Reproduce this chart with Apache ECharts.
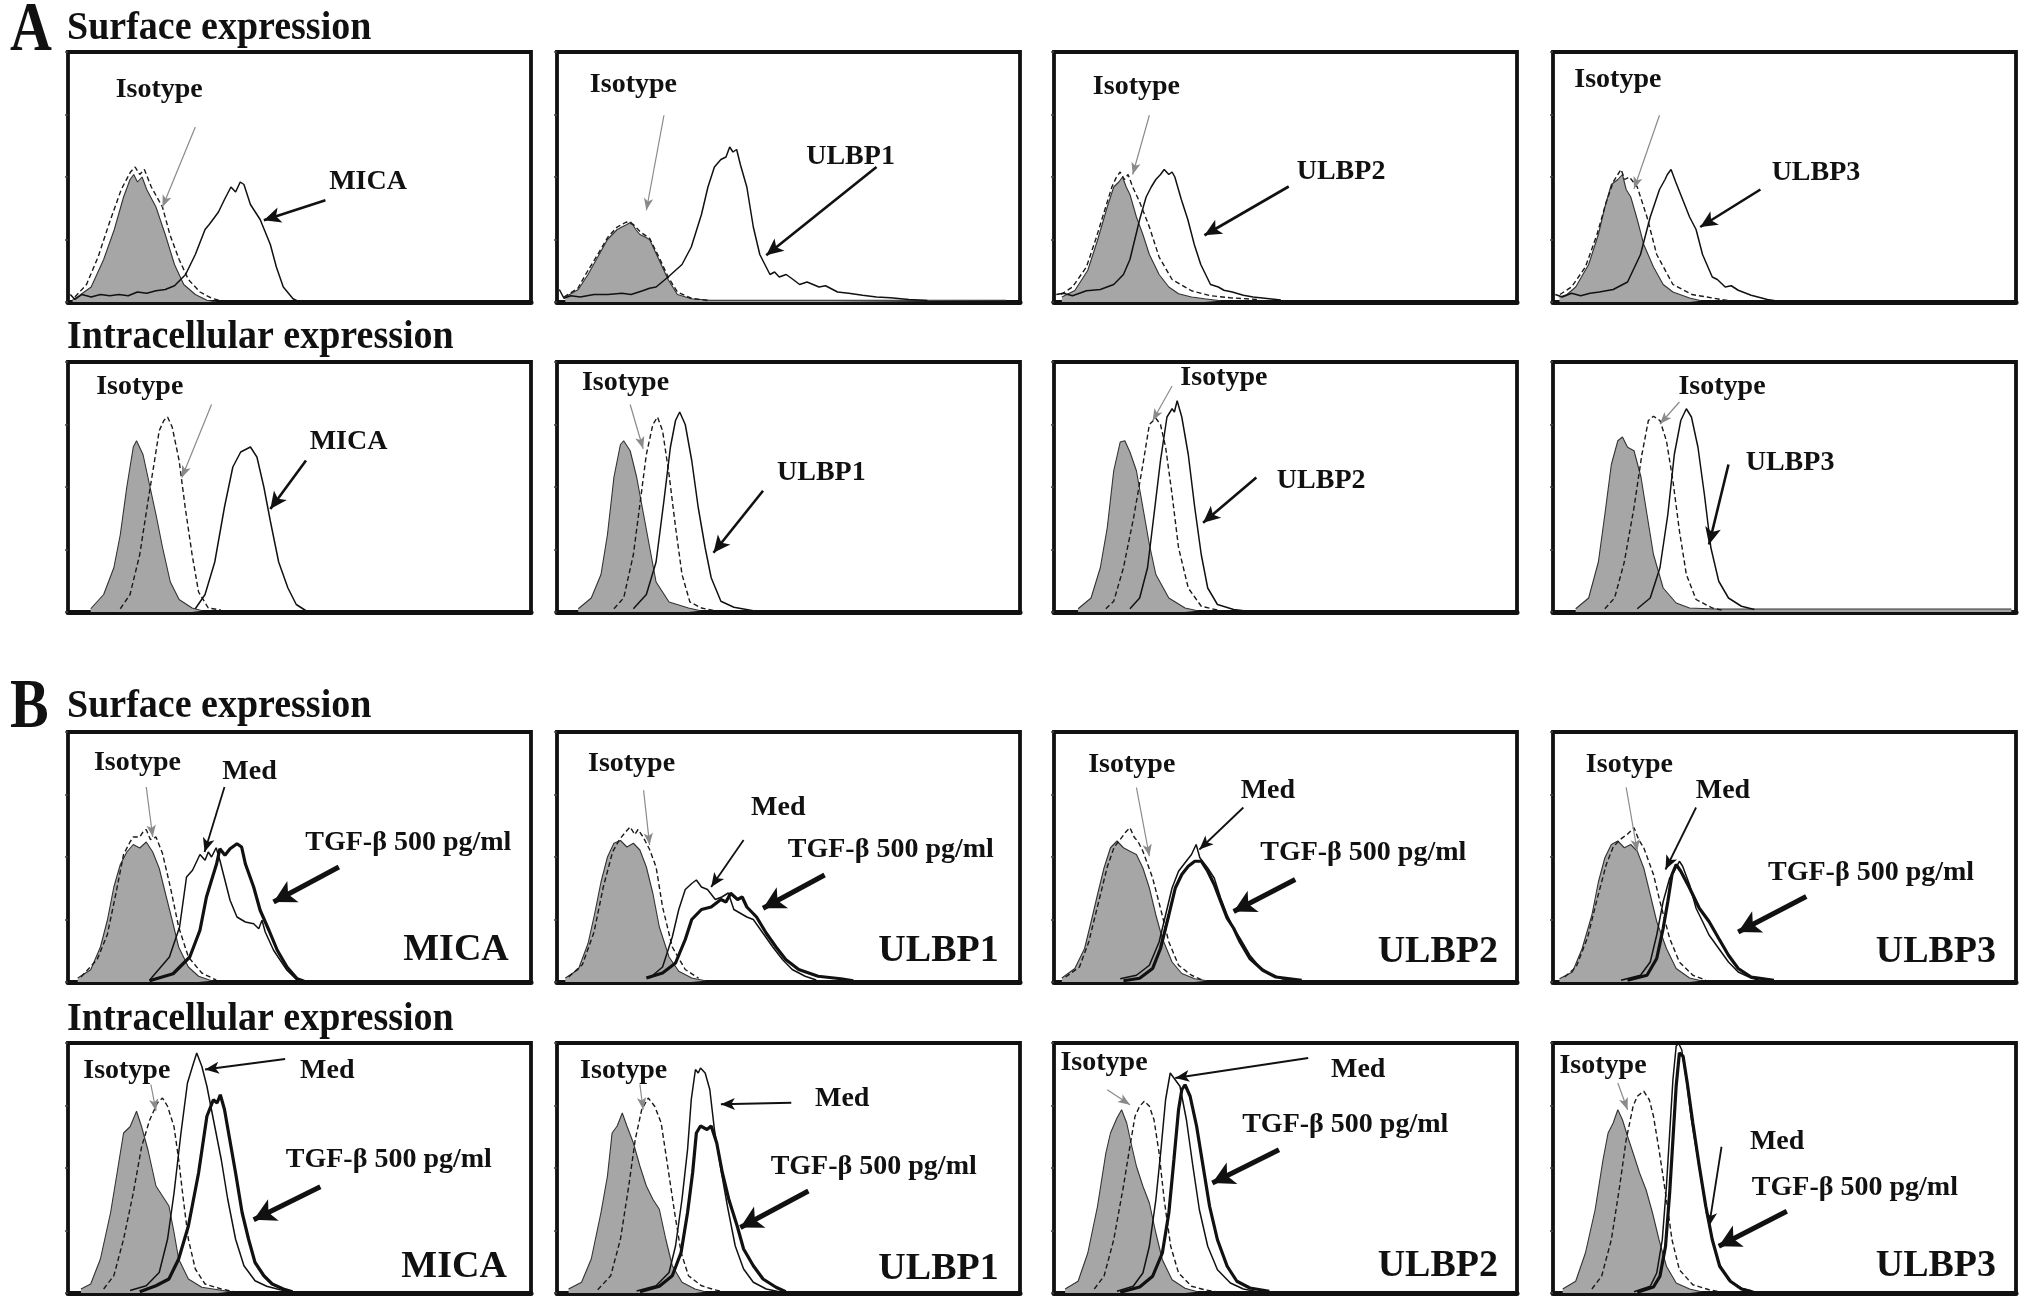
<!DOCTYPE html>
<html>
<head>
<meta charset="utf-8">
<title>NKG2D ligand expression</title>
<script src="https://cdn.jsdelivr.net/npm/echarts@6/dist/echarts.min.js"></script>
<style>
  html, body { margin: 0; padding: 0; background: #fff; }
  #chart { width: 2028px; height: 1309px; }
</style>
</head>
<body>
<div id="chart"></div>
<script>
// x = fluorescence (0-100 across the box), y = % of box height
// neg = grey filled control, iso = dashed isotype, others = antibody curves

// ── A, surface ──
const aSurfMicaNeg = [[1,1],[2,2],[5,6],[7.7,17],[10,29],[12,42],[13.4,49],[14.2,51],[15,48],[16,50],[17,45],[19,38],[21,27],[23,15],[25,7],[27.5,3],[30,0.7],[32,0]];
const aSurfMicaIso = [[1.5,2],[4,7],[6.5,18],[9,32],[11.5,45],[13.5,52],[14.5,54],[15.5,51],[16.5,53],[18,46],[20.4,38],[22,27],[24,17],[26,9],[28.5,4],[31,1.5],[33,0.5]];
const aSurfMica = [[0.5,3],[1.5,1],[3,3],[5,2],[7,3],[9,2.5],[11,3],[13,2.5],[15,4],[17,3.5],[19,4.5],[21,5],[23,6.5],[25.4,11],[27.5,19],[29.6,29],[30.5,31],[31.7,34],[32.5,36],[33.8,41],[35.2,46],[36.2,44],[37.2,48],[38,47],[39.4,39],[41.5,33],[43.7,23],[45,14],[46.5,6],[48.6,1.3],[50,0]];

const aSurfUlbp1Neg = [[1.8,2],[4.6,5],[6.7,11],[8.8,18],[10.9,25],[13,29],[14,30],[15.1,31],[16,32],[17,29],[17.9,27],[19,26],[20,25],[22,17],[24,9],[26,3],[29,1.3],[33,0.7],[60,0.7],[97,0.7]];
const aSurfUlbp1Iso = [[1.5,2],[4.5,5.5],[6.5,12],[8.8,19],[11,26],[13,30],[15,32],[16.5,31],[18,28],[20,25.5],[22,18],[24,10],[26,4],[29,1.5],[33,0.5]];
const aSurfUlbp1 = [[0.5,5],[1.5,1.5],[3,2.5],[5,2],[8,3],[11,3],[14,3.5],[16,3],[18.5,4.5],[20,5.5],[21.4,6],[24,10],[27,15],[29,22],[31.2,35],[32.6,46],[34,54],[35.4,57],[36.5,58],[37.3,62],[38,60],[38.8,61],[39.6,55],[41,46],[42.4,30],[43.8,19],[46,11],[47,12],[48,10],[49.5,11],[51,9],[52.4,7],[54,8],[56.6,6],[58,6.5],[60.6,4],[63,3.5],[66,2.7],[69,2],[72,1.7],[76,1],[80,0.6]];

const aSurfUlbp2Neg = [[1.7,2],[4.5,4.6],[7.3,12.7],[9.4,24.7],[11.5,38],[12.9,46],[14,48],[14.8,50],[15.6,46],[16.4,43],[17.8,34],[19.2,27],[20.6,19],[22.7,11],[24.8,6],[26.9,3.3],[29.7,2],[32.5,1.3],[36,0.5]];
const aSurfUlbp2Iso = [[1.5,3],[4,6],[7,14],[9,25],[11,37],[12.5,46],[13.5,50],[14.3,52],[15.2,49],[16,51],[17,46],[18.5,40],[20.6,30],[22.7,18],[25.5,9],[29.7,4.5],[33.8,2.5],[38,1.7],[44,1]];
const aSurfUlbp2 = [[0.5,3],[2,3.5],[4,2.5],[7,4.5],[10,5],[12.9,7],[15,11],[16.4,17],[18.5,33],[19.9,42],[21,46],[22,49],[23,51],[23.8,53],[24.8,51],[25.5,52],[26.1,50],[27.5,41],[28.9,33],[30.3,23],[31.7,15],[33.8,7],[35.5,6],[36.7,4.7],[38.5,4],[40.9,2.7],[43,2],[46.5,1.3],[49,0.8]];

const aSurfUlbp3Neg = [[1.4,2],[3,3],[4.9,6],[7.7,15],[9.8,27],[11.2,38],[12.6,47],[14,49],[15,51],[15.8,45],[16.8,42],[18.2,33],[19.6,23],[21.7,14],[23.8,7],[25.9,4],[29.5,1.6],[32,0.5]];
const aSurfUlbp3Iso = [[1.5,3],[4,6],[7,14],[9.5,27],[11.5,40],[13,48],[14,51],[14.7,53],[15.5,49],[16.5,50],[18.2,46],[20.3,34],[22.4,19],[25.9,7],[30,3],[34.4,1.6],[38,0.5]];
const aSurfUlbp3 = [[0.5,3],[2,2],[4,3.5],[6,2.5],[8,3.5],[10,4],[13,5],[16.1,8],[18.9,19],[21,34],[23,45],[24.2,49],[24.7,51],[25.5,53],[26.5,48],[28,41],[29.5,34],[30.9,29],[32.3,19],[34.4,10],[35.5,9],[37.2,6],[38.5,6.5],[40,4.7],[42.8,2.7],[46.3,1],[48,0.5]];

// ── A, intracellular ──
const aIntraMicaNeg = [[4.9,1.3],[7.7,7],[9.9,17.7],[11.3,31],[12.7,50],[14.1,66],[14.8,68.5],[16.2,63],[17.6,51],[19,39],[20.4,26],[22.1,12],[24,5],[26.8,1.6],[29,0.5]];
const aIntraMicaIso = [[11.3,1.3],[13.4,7],[15.5,23],[17.3,44.6],[18.7,60.6],[19.7,72.5],[20.7,76.6],[21.5,78],[22.5,74],[24,60.6],[25.3,42],[26.8,23],[28.2,8],[30.3,1.6],[33,0.8]];
const aIntraMica = [[27.5,1.3],[29.6,7],[31.7,20],[33.8,42],[35.6,58],[37.3,64],[39.4,66],[40.8,62],[42.3,50],[43.7,36.4],[45.5,20],[47.5,9.6],[49.3,3],[51.4,0.5]];

const aIntraUlbp1Neg = [[4.6,1.3],[7.4,5.6],[9.5,15],[10.9,31],[12.3,54],[13.7,67],[14.4,68.5],[15.8,64.5],[17.2,54],[18.6,40],[20,26],[21.4,12],[24.2,4],[28.4,1.6],[31,0.5]];
const aIntraUlbp1Iso = [[12.3,1.3],[14.4,5.6],[16.5,23],[17.9,43],[19.3,63],[20.7,75],[21.7,78],[22.8,72.5],[24.2,55],[25.6,34],[27,15],[28.7,4],[31.2,1.6],[34,0.5]];
const aIntraUlbp1 = [[16.5,1.3],[19.3,7],[21.4,20],[23.1,44.6],[24.5,66],[25.6,76.6],[26.5,80],[27.7,75],[29.1,60.6],[30.5,41.8],[32,25.7],[33.3,13.7],[35.4,4.3],[38.2,1.9],[42.4,0.5]];

const aIntraUlbp2Neg = [[5.2,1.3],[8,5.6],[10,17.7],[11.5,33.7],[12.9,56.5],[14.3,68],[15.3,68.5],[16.4,64],[17.8,56.5],[19.2,41.8],[20.6,27],[22,15],[24.8,5.6],[28.3,1.6],[31,0.5]];
const aIntraUlbp2Iso = [[11.2,1.3],[12.9,4.3],[15,17.7],[17.2,37.8],[19.2,59],[20.6,75],[22,77.5],[23,75],[24.1,66],[25.5,47],[26.9,25.7],[29,9.6],[31.8,2.3],[35.3,0.8]];
const aIntraUlbp2 = [[16.4,1.3],[18.5,5.6],[20.2,17.7],[21.6,39],[23,60.6],[24.4,78],[25.5,81.3],[26,80],[26.6,84.5],[27.6,78],[29,63],[30.4,41.8],[31.8,23],[33.2,9.6],[35.3,3],[38.8,1],[41,0.5]];

const aIntraUlbp3Neg = [[4.9,1.3],[7.7,5.6],[9.8,20],[11.2,39],[12.6,59],[14,68.5],[15,70],[16.1,65.9],[17.5,64.5],[19,54],[20.3,39],[21.7,23],[23.8,9.6],[26.6,3.6],[29.5,1.6],[35,1.2],[99,1.2]];
const aIntraUlbp3Iso = [[11.2,1.3],[13.3,5.6],[15.4,20],[17.5,41.8],[19.2,63],[20.6,76.6],[21.7,78.3],[23.1,76.6],[24.5,68.5],[25.9,52.5],[27.3,32.5],[28.8,15],[30.9,5],[34.4,1.6],[37,0.5]];
const aIntraUlbp3 = [[18.2,1.3],[21,5.6],[23.1,17.7],[24.8,39],[26.2,63],[27.6,76.6],[28.8,81.3],[29.9,78],[31.3,66],[32.7,47],[34.1,25.7],[35.8,12.3],[37.9,5.6],[40.7,2.3],[43.5,1]];

// ── B, surface ──
const bSurfMicaNeg = [[2.1,1.6],[4.9,4.9],[7,14],[8.5,24.7],[9.9,38],[11.3,47],[12.7,52],[14.1,55],[15.5,53.6],[16.9,56],[18.3,52],[19.7,45.5],[21.1,35],[22.5,24.7],[23.9,14],[26,6],[28.2,2.3],[31,0.5]];
const bSurfMicaIso = [[2.8,2],[6.3,9],[8.5,19],[10.3,35],[12,51],[13.4,56],[14.1,58],[15.5,58],[16.2,60],[16.9,61],[17.8,57],[19,58],[20.4,51.5],[22.1,38],[23.9,22],[26,10],[28.9,3.6],[32,0.8]];
const bSurfMicaMed = [[17.6,0.7],[21.9,10],[24.1,22],[25.6,42],[26.9,44.7],[28.5,51],[29.6,48.7],[30.3,52],[31,50],[32,53.7],[32.8,48.7],[33.9,40.7],[35,32.7],[36.5,26],[38.3,24],[40.1,23.3],[41.2,21.3],[41.9,24.7],[42.6,20],[44.4,12.7],[47.3,4.7],[49.5,0.7]];
const bSurfMicaTgf = [[17.6,0.5],[22.7,3.3],[26.3,10],[28.5,20.7],[29.9,34],[31,40.7],[32.1,47.3],[32.8,53.3],[33.9,50.7],[35,53.3],[36.5,55.3],[37.5,54],[38.3,47.3],[40.1,38],[41.5,28.7],[43.4,20.7],[45.2,12.7],[47.3,6],[49.5,1.3],[51,0.3]];

const bSurfUlbp1Neg = [[1.8,1.6],[4.6,5],[6.7,15.4],[8.1,27],[9.5,40],[10.9,50],[12.3,55.5],[13.7,56.6],[15.1,54],[16.5,55.5],[17.9,52.8],[19.3,46],[20.7,35.5],[22.1,22],[24.2,10],[26.3,4.3],[29.1,1.6],[32,0.5]];
const bSurfUlbp1Iso = [[2.5,2],[5.5,7],[8,20],[10,38],[12,52],[13.5,57],[14.8,60],[15.8,62],[16.8,59],[17.5,61],[18.6,58],[20,53],[21.4,46],[22.8,30],[24.9,14],[27.7,5],[30.6,1.5]];
const bSurfUlbp1Med = [[20,1.6],[22.8,6],[24.9,18],[26.3,29],[27.7,37],[29.1,39.4],[30.1,40.8],[31.2,38],[32.5,37],[34.2,33],[35.6,34],[37,35.6],[38.2,29],[39.6,27.5],[41,26],[42.4,25],[44.5,19.5],[46.6,14],[48.7,9],[50.8,5],[53.6,2.3],[56,0.8]];
const bSurfUlbp1Tgf = [[19.3,1.6],[22.8,3.6],[25.6,7.6],[27.7,17],[29.1,25],[31.2,29],[33.3,30],[35.4,33],[36.5,32],[37.5,35.5],[39,33],[40,34],[41,30],[43.1,26],[45.2,19.5],[47.3,14],[49.4,9],[52.2,5],[56.4,2.3],[61.3,1.3],[64,0.5]];

const bSurfUlbp2Neg = [[1.7,1.6],[4.5,5.4],[6.6,13.4],[8,24],[9.4,35],[10.8,45.6],[12.2,53.7],[13.6,56.4],[15,53.7],[16.4,52.3],[17.8,51],[19.2,45.6],[20.6,37.6],[22,26.8],[23.4,17.4],[25.5,8],[27.6,3.4],[30.4,1.3],[33,0.5]];
const bSurfUlbp2Iso = [[2.5,2],[5.5,6],[7.5,16],[9.5,31],[11.5,46],[13,54],[14.3,57],[15.5,60],[16.4,61.7],[17.3,58],[18.2,56],[19.2,52.3],[21.3,41.6],[23,29.5],[24.8,16],[26.9,6.7],[29.7,2.7],[32,0.8]];
const bSurfUlbp2Med = [[14.3,1.3],[17.8,2.7],[20.6,6.7],[22.7,16],[24.1,26.8],[25.5,37.6],[26.9,44.3],[28.3,47.7],[29.7,51],[30.7,55],[31.5,49.7],[33.2,45.6],[34.6,41.6],[36,33.6],[37.4,26.8],[38.8,21.5],[40.2,17.4],[42.3,10.7],[44.4,6],[46.5,3.4],[49.3,1.3],[52,0.5]];
const bSurfUlbp2Tgf = [[15,0.5],[18.5,1.5],[21.3,5.4],[23,13.4],[24.8,26.8],[26.2,37.6],[27.6,43],[29,46.3],[30.4,48.3],[31.8,48.3],[33.2,44.3],[34.6,39],[36,32.2],[37.4,25.5],[38.8,21.5],[40.2,16],[42.3,9.4],[45.1,4.7],[47.9,2],[53.5,0.7]];

const bSurfUlbp3Neg = [[1.4,1.3],[4.2,4],[6.3,13.4],[8.4,26.8],[9.8,40],[11.2,49.7],[12.6,55],[14,56.4],[15.4,53.7],[16.8,55],[18.2,52.3],[19.6,45.6],[21,35],[22.4,24.2],[24.5,13.4],[26.6,5.4],[29.5,1.6],[32,0.5]];
const bSurfUlbp3Iso = [[2.5,2],[5,6],[7.5,18],[9.5,33],[11.5,47],[13,54],[14.5,57],[16,59],[17.5,61.7],[18.5,57],[19.6,53.7],[21.7,43],[23.1,32.2],[25.2,17.4],[27.3,8],[30.2,2.7],[33,0.8]];
const bSurfUlbp3Med = [[14.7,0.7],[18.9,2.7],[21,8],[22.4,18.8],[23.8,32.2],[25.2,41.6],[26.2,44.3],[27.3,48.3],[28,46.3],[29.5,38.9],[30.9,29.5],[32.3,24.2],[33.7,18.8],[35.8,13.4],[37.9,8],[40,4],[42.8,1.6],[45,0.5]];
const bSurfUlbp3Tgf = [[16.1,0.7],[20.3,2.7],[22.4,9.4],[23.8,21.5],[24.8,32.2],[25.7,43],[26.6,47],[27.6,44.3],[29.5,37.6],[31.6,29.5],[33.7,24.2],[35.8,17.4],[37.9,10.7],[40,5.4],[42.8,2],[47.7,0.7]];

// ── B, intracellular ──
const bIntraMicaNeg = [[2.8,1.6],[4.9,3.6],[7,13.6],[9.2,32.2],[10.6,48],[12,64],[13.4,66.5],[14.8,72.7],[15.9,66.5],[17.3,57],[19,42.8],[20.4,38.8],[21.8,34.8],[22.9,24.2],[23.9,13.6],[26,5.6],[28.9,2.3],[32.4,1.3],[35,0.5]];
const bIntraMicaIso = [[7.7,1.6],[9.9,6.9],[12,21.5],[14.1,40],[15.9,58.5],[17.6,69],[19.3,76],[20.4,78],[21.5,74.7],[22.9,66.5],[23.9,53.4],[24.9,37.5],[26,21.5],[27.5,9.6],[29.6,3.6],[33.1,1.6],[36,0.5]];
const bIntraMicaMed = [[13.4,1],[16.9,2.9],[19.7,8.2],[21.5,21.5],[22.9,40],[24.4,64],[25.8,84],[26.9,90.7],[27.8,96],[28.9,90.7],[30,82.7],[31.4,69.4],[33.1,53.4],[34.5,37.5],[36.2,21.5],[38,10.9],[40.4,4.9],[42.9,2.7],[45.8,1.3],[48,0.5]];
const bIntraMicaTgf = [[15.5,0.5],[19,2.9],[21.8,5.6],[23.9,13.6],[26,26.8],[28.2,48],[30,70.7],[31.4,77.3],[32.2,76],[32.9,79.3],[33.8,73.4],[34.8,62.8],[36.2,48],[37.6,32.2],[39,21.5],[40.4,12.2],[42.3,6.9],[44.1,3.6],[46.5,1.6],[48.5,0.5]];

const bIntraUlbp1Neg = [[2.5,1.6],[5.3,4.3],[7.4,13.6],[9.5,32.2],[10.9,46.8],[11.9,64],[13,66.8],[14.1,72],[15.1,66.8],[16.5,60],[17.9,50.8],[19.3,42.8],[20.7,37.5],[22.1,33.5],[23.5,21.5],[24.9,10.9],[27,4.3],[29.8,1.6],[32,0.5]];
const bIntraUlbp1Iso = [[8.8,1.3],[11.6,6.9],[13.7,21.5],[15.5,42.8],[16.9,61.4],[18.3,73.4],[19.7,78],[21.1,74.7],[22.5,68],[23.9,50.8],[25.4,32.2],[26.8,16.2],[28.4,6.9],[31.2,2.9],[34,1.3],[36,0.5]];
const bIntraUlbp1Med = [[17.2,0.8],[21.4,2.9],[24.2,8.2],[25.6,18.8],[27,37.5],[28.2,57.4],[29,77.4],[29.9,89.4],[30.5,88],[31,90],[32,88],[33,81.4],[34,65.4],[35.4,49.5],[36.8,34.8],[38.5,18.8],[40.3,9.6],[42.4,4.3],[45.2,1.6],[48,0.5]];
const bIntraUlbp1Tgf = [[17.9,0.5],[22.1,2.7],[24.9,6.9],[26.8,16.2],[28.2,32.2],[29.3,48.2],[30.1,64],[31,66.8],[32.4,65.4],[33.3,66.8],[34.5,60],[35.7,48.2],[37.1,37.5],[38.9,26.9],[40.3,17.6],[42.4,10.9],[44.5,5.6],[47.3,2.3],[49.4,0.5]];

const bIntraUlbp2Neg = [[2.4,1.6],[5.2,4.7],[7.3,16],[9.4,34.7],[11.2,56],[12.2,64],[13.6,70],[14.6,73.3],[15.7,68],[16.8,58.7],[17.8,50.7],[19.2,42.7],[20.6,36],[22,24],[23.4,13.3],[25.5,5.3],[28.3,1.9],[31,0.5]];
const bIntraUlbp2Iso = [[8.7,1.6],[10.8,6.7],[12.9,21.3],[15,42.7],[16.4,58.7],[17.5,70.7],[18.5,74.7],[19.5,76.7],[20.6,74.7],[21.6,69.3],[22.7,56],[23.8,37.3],[25.2,18.7],[26.9,8],[29.7,2.7],[32.5,1.3],[35,0.5]];
const bIntraUlbp2Med = [[13.6,0.7],[17.1,2.7],[19.2,8],[20.6,18.7],[22,37.3],[23.1,57.3],[24.1,77.3],[25.1,88],[25.9,86],[27.2,82.7],[28.6,69.3],[30,50.7],[31.4,33.3],[33.2,18.7],[35.3,9.3],[38.1,4],[40.9,1.6],[44,0.5]];
const bIntraUlbp2Tgf = [[14.3,0.3],[18.5,2.4],[21.3,6.7],[23.4,16],[24.8,32],[25.9,53.3],[26.9,73.3],[27.6,81.3],[28.3,83.3],[29.4,78.7],[30.8,66.7],[32.2,50.7],[33.6,34.7],[35.3,21.3],[37.4,10.7],[39.5,4.7],[42.3,2],[46.5,0.7]];

const bIntraUlbp3Neg = [[2.1,1.6],[4.9,4.7],[7,16],[9.1,33.3],[10.8,53.3],[11.9,64],[13,68],[14,73.3],[15,69.3],[16.1,62.7],[17.3,56],[18.7,48],[20.1,41.3],[21.5,32],[22.9,21.3],[24.5,10.7],[26.6,4],[29.5,1.6],[32,0.5]];
const bIntraUlbp3Iso = [[8.4,1.6],[10.5,6.7],[12.6,21.3],[14.4,42.7],[15.8,61.3],[17.3,74.7],[18.2,78.7],[19.6,80.7],[20.8,77.3],[21.7,70.7],[22.9,57.3],[24.3,40],[25.7,21.3],[27.3,9.3],[30.2,3.3],[33.7,1.3],[36,0.5]];
const bIntraUlbp3Med = [[17.5,0.5],[21,2.7],[22.4,8],[23.6,21.3],[24.5,42.7],[25.2,64],[25.9,85.3],[26.6,98.7],[27.1,100],[27.8,97.3],[28.8,85.3],[29.9,69.3],[31.3,53.3],[32.7,37.3],[34.1,24],[35.8,12],[37.9,5.3],[40.7,1.9],[43.5,0.5]];
const bIntraUlbp3Tgf = [[18.2,0.3],[21.7,2.4],[23.1,6.7],[24.3,18.7],[25.2,40],[25.9,61.3],[26.6,82.7],[27.3,96],[28.1,94.7],[29,84],[30.2,68],[31.6,50.7],[33,34.7],[34.4,21.3],[36,10.7],[38.3,4.7],[40.7,1.6],[43,0.5]];

const TGF = 'TGF-β 500 pg/ml';

// panel layout (px) and annotations (in data units)
const colLeft = [68, 557, 1054, 1553];
const rowTop = [52, 362, 732, 1043];
const boxW = 463, boxH = 250;

const panels = [
  { row: 0, col: 0, neg: aSurfMicaNeg, iso: aSurfMicaIso, pos: aSurfMica,
    notes: [['Isotype', 19.7, 85], ['MICA', 64.8, 48]],
    isoArrow: [[27.5, 70], [20.4, 38]], posArrow: [[55.6, 40.7], [42.3, 32.7]] },
  { row: 0, col: 1, neg: aSurfUlbp1Neg, iso: aSurfUlbp1Iso, pos: aSurfUlbp1,
    notes: [['Isotype', 16.5, 87], ['ULBP1', 63.4, 58]],
    isoArrow: [[23.1, 74.7], [19.3, 36.7]], posArrow: [[69, 54], [45.2, 18.7]] },
  { row: 0, col: 2, neg: aSurfUlbp2Neg, iso: aSurfUlbp2Iso, pos: aSurfUlbp2,
    notes: [['Isotype', 17.8, 86], ['ULBP2', 62, 52]],
    isoArrow: [[20.6, 74.7], [17, 51]], posArrow: [[50.7, 46.2], [32.5, 26.7]] },
  { row: 0, col: 3, neg: aSurfUlbp3Neg, iso: aSurfUlbp3Iso, pos: aSurfUlbp3,
    notes: [['Isotype', 14, 89], ['ULBP3', 56.8, 51.6]],
    isoArrow: [[23, 74.7], [17.5, 45.3]], posArrow: [[44.8, 45], [31.8, 30]] },

  { row: 1, col: 0, neg: aIntraMicaNeg, iso: aIntraMicaIso, pos: aIntraMica,
    notes: [['Isotype', 15.5, 90], ['MICA', 60.6, 68]],
    isoArrow: [[31, 83], [24.6, 53.8]], posArrow: [[51.4, 60.6], [43.7, 41.2]] },
  { row: 1, col: 1, neg: aIntraUlbp1Neg, iso: aIntraUlbp1Iso, pos: aIntraUlbp1,
    notes: [['Isotype', 14.8, 91.6], ['ULBP1', 57.1, 55.8]],
    isoArrow: [[15.8, 83], [18.6, 65.3]], posArrow: [[44.5, 48.5], [33.8, 23.7]] },
  { row: 1, col: 2, neg: aIntraUlbp2Neg, iso: aIntraUlbp2Iso, pos: aIntraUlbp2,
    notes: [['Isotype', 36.7, 93.6], ['ULBP2', 57.7, 52.5]],
    isoArrow: [[25.5, 90.4], [21.3, 76.5]], posArrow: [[43.7, 53.8], [32.2, 35.7]] },
  { row: 1, col: 3, neg: aIntraUlbp3Neg, iso: aIntraUlbp3Iso, pos: aIntraUlbp3,
    notes: [['Isotype', 36.5, 90], ['ULBP3', 51.2, 59.8]],
    isoArrow: [[27.3, 84], [23.1, 75.2]], posArrow: [[37.9, 59], [33.7, 27]] },

  { row: 2, col: 0, neg: bSurfMicaNeg, iso: bSurfMicaIso, pos: bSurfMicaMed, tgf: bSurfMicaTgf,
    notes: [['Isotype', 15, 87.8], ['Med', 39.2, 84], [TGF, 73.5, 55.5], ['MICA', 83.8, 12.9, 38]],
    isoArrow: [[16.9, 78], [18.3, 58]], posArrow: [[33.8, 78], [29.5, 52]], tgfArrow: [[58.5, 46], [44.4, 32]] },
  { row: 2, col: 1, neg: bSurfUlbp1Neg, iso: bSurfUlbp1Iso, pos: bSurfUlbp1Med, tgf: bSurfUlbp1Tgf,
    notes: [['Isotype', 16.1, 87.4], ['Med', 47.8, 69.8], [TGF, 72.1, 52.8], ['ULBP1', 82.4, 12.2, 38]],
    isoArrow: [[18.7, 76.7], [20, 54.8]], posArrow: [[40.3, 56.8], [33.3, 38]], tgfArrow: [[57.8, 42.8], [44.5, 29.5]] },
  { row: 2, col: 2, neg: bSurfUlbp2Neg, iso: bSurfUlbp2Iso, pos: bSurfUlbp2Med, tgf: bSurfUlbp2Tgf,
    notes: [['Isotype', 16.8, 87], ['Med', 46.2, 76.5], [TGF, 66.8, 51.7], ['ULBP2', 82.9, 12, 38]],
    isoArrow: [[17.8, 77.8], [20.6, 50.3]], posArrow: [[40.9, 69.8], [31.4, 53]], tgfArrow: [[52.1, 41], [38.8, 28.2]] },
  { row: 2, col: 3, neg: bSurfUlbp3Neg, iso: bSurfUlbp3Iso, pos: bSurfUlbp3Med, tgf: bSurfUlbp3Tgf,
    notes: [['Isotype', 16.5, 87], ['Med', 36.7, 76.5], [TGF, 68.7, 43.5], ['ULBP3', 82.7, 12, 38]],
    isoArrow: [[15.8, 77.9], [18.2, 52.3]], posArrow: [[30.9, 69.8], [24.3, 45]], tgfArrow: [[54.7, 34.2], [40, 20]] },

  { row: 3, col: 0, neg: bIntraMicaNeg, iso: bIntraMicaIso, pos: bIntraMicaMed, tgf: bIntraMicaTgf,
    notes: [['Isotype', 12.7, 88.7], ['Med', 56, 89], [TGF, 69.3, 53.2], ['MICA', 83.4, 10.2, 38]],
    isoArrow: [[17.9, 83.4], [19, 72.8]], posArrow: [[46.9, 93.6], [29.6, 89.4]], tgfArrow: [[54.5, 42.5], [40.1, 29.3]] },
  { row: 3, col: 1, neg: bIntraUlbp1Neg, iso: bIntraUlbp1Iso, pos: bIntraUlbp1Med, tgf: bIntraUlbp1Tgf,
    notes: [['Isotype', 14.4, 88.7], ['Med', 61.6, 77.8], [TGF, 68.4, 50.5], ['ULBP1', 82.4, 9.6, 38]],
    isoArrow: [[17.9, 83.4], [18.6, 73.4]], posArrow: [[50.6, 76.1], [35.4, 75.5]], tgfArrow: [[54.3, 40.8], [39.6, 26.2]] },
  { row: 3, col: 2, neg: bIntraUlbp2Neg, iso: bIntraUlbp2Iso, pos: bIntraUlbp2Med, tgf: bIntraUlbp2Tgf,
    notes: [['Isotype', 10.8, 92], ['Med', 65.7, 89.3], [TGF, 62.9, 67.3], ['ULBP2', 82.9, 10.7, 38]],
    isoArrow: [[11.5, 81.3], [16.4, 75.3]], posArrow: [[54.9, 94], [26.2, 86]], tgfArrow: [[48.6, 57.3], [34.2, 44]] },
  { row: 3, col: 3, neg: bIntraUlbp3Neg, iso: bIntraUlbp3Iso, pos: bIntraUlbp3Med, tgf: bIntraUlbp3Tgf,
    notes: [['Isotype', 10.8, 90.7], ['Med', 48.4, 60.3], [TGF, 65.2, 42], ['ULBP3', 82.7, 10.7, 38]],
    isoArrow: [[14, 84], [16.1, 73.3]], posArrow: [[36.4, 58.5], [33.7, 26.7]], tgfArrow: [[50.5, 32.7], [35.8, 18.7]] },
];

// heading text, x, y (middle), font size, vertical stretch
const headings = [
  ['A', 10, 32, 58, 1.2], ['Surface expression', 67, 28, 38, 1.08], ['Intracellular expression', 67, 337, 38, 1.08],
  ['B', 10, 709, 58, 1.2], ['Surface expression', 67, 706, 38, 1.08], ['Intracellular expression', 67, 1019, 38, 1.08],
];

const SERIF = '"Liberation Serif", "Times New Roman", serif';

function arrow(pair, color, width, size) {
  return {
    silent: true,
    symbol: ['none', 'arrow'],
    symbolSize: size,
    label: { show: false },
    emphasis: { disabled: true },
    lineStyle: { type: 'solid', color: color, width: width, opacity: 1 },
    animation: false,
    data: [[{ coord: pair[0] }, { coord: pair[1] }]],
  };
}

const chart = echarts.init(document.getElementById('chart'), null, { renderer: 'canvas' });

const grid = [], xAxis = [], yAxis = [], series = [];

panels.forEach((p, i) => {
  grid.push({
    left: colLeft[p.col], top: rowTop[p.row], width: boxW, height: boxH,
    show: true, backgroundColor: '#fff', borderColor: '#111', borderWidth: 3.8,
  });
  xAxis.push({
    gridIndex: i, type: 'value', min: 0, max: 100,
    axisLine: { show: true, onZero: false, lineStyle: { color: '#111', width: 5 } },
    axisTick: { show: false }, axisLabel: { show: false }, splitLine: { show: false },
  });
  yAxis.push({
    gridIndex: i, type: 'value', min: 0, max: 100, interval: 25,
    axisLine: { show: false },
    axisTick: { show: true, length: 3, lineStyle: { color: '#444', width: 1.5 } },
    axisLabel: { show: false }, splitLine: { show: false },
  });

  const base = { type: 'line', xAxisIndex: i, yAxisIndex: i, showSymbol: false, symbol: 'none', silent: true, animation: false };

  // grey filled control
  series.push({ ...base, data: p.neg, z: 2,
    lineStyle: { color: '#333', width: 1.1 },
    areaStyle: { color: '#a6a6a6', opacity: 1 } });

  // dashed isotype
  series.push({ ...base, data: p.iso, z: 3,
    lineStyle: { color: '#1a1a1a', width: 1.4, type: [5, 3] },
    markLine: arrow(p.isoArrow, '#8a8a8a', 1.2, [7, 12]) });

  // solid antibody / medium curve + labels
  series.push({ ...base, data: p.pos, z: 4,
    lineStyle: { color: '#111', width: 1.5 },
    markLine: arrow(p.posArrow, '#111', p.tgf ? 1.8 : 2.6, p.tgf ? [9, 14] : [12, 17]),
    markPoint: {
      silent: true, symbol: 'rect', symbolSize: 1, animation: false,
      itemStyle: { color: 'rgba(0,0,0,0)' },
      label: { show: true, position: 'inside', formatter: '{b}', color: '#111',
        fontFamily: SERIF, fontWeight: 'bold', fontSize: 28 },
      data: p.notes.map(n => ({ name: n[0], coord: [n[1], n[2]],
        label: n[3] ? { fontSize: n[3] } : undefined })),
    } });

  // thick TGF-β curve
  if (p.tgf) {
    series.push({ ...base, data: p.tgf, z: 5,
      lineStyle: { color: '#111', width: 3.2 },
      markLine: arrow(p.tgfArrow, '#111', 5, [18, 22]) });
  }
});

const graphic = headings.map(h => ({
  type: 'text', x: h[1], y: h[2], z: 100, scaleY: h[4],
  style: { text: h[0], fill: '#111', font: `bold ${h[3]}px ${SERIF}`,
    textAlign: 'left', textVerticalAlign: 'middle' },
}));

chart.setOption({
  backgroundColor: '#fff',
  animation: false,
  grid, xAxis, yAxis, series, graphic,
});
</script>
</body>
</html>
